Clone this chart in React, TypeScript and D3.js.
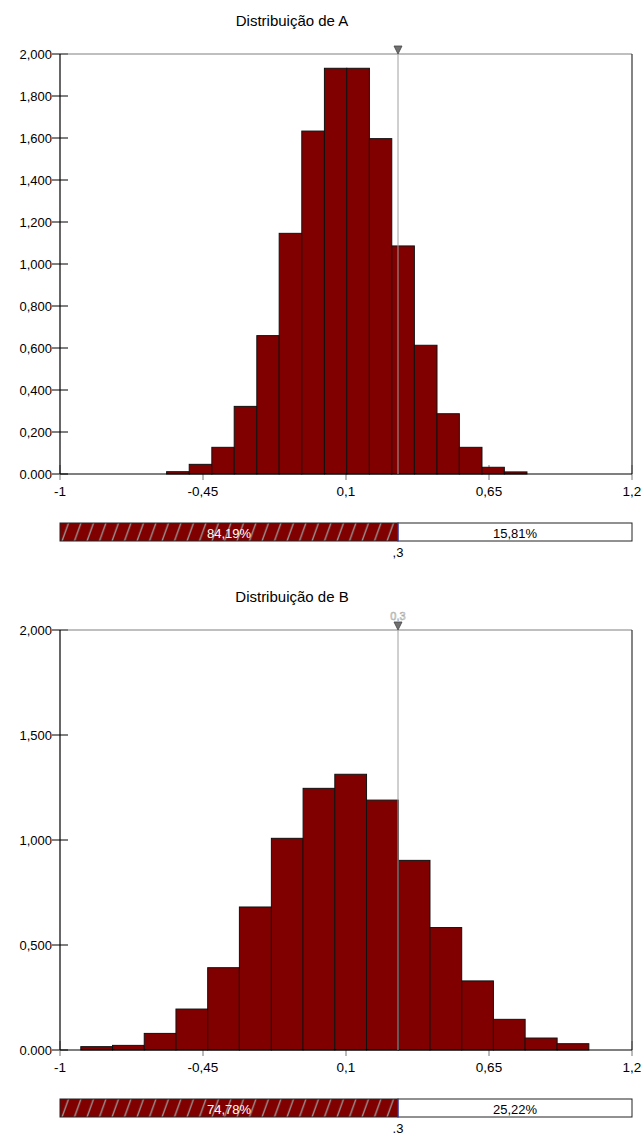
import React from "react";
import * as d3 from "d3";

// ---------- data ----------
const xTickValues = [-1, -0.45, 0.1, 0.65, 1.2];
const xTickLabels = ["-1", "-0,45", "0,1", "0,65", "1,2"];

const yTicksA = [0, 200, 400, 600, 800, 1000, 1200, 1400, 1600, 1800, 2000];
const yTickLabelsA = ["0.000", "0,200", "0,400", "0,600", "0,800", "1,000", "1,200", "1,400", "1,600", "1,800", "2,000"];
const yTicksB = [0, 500, 1000, 1500, 2000];
const yTickLabelsB = ["0.000", "0,500", "1,000", "1,500", "2,000"];

const binEdgesA = [-0.59, -0.503, -0.416, -0.33, -0.243, -0.157, -0.07, 0.017, 0.103, 0.19, 0.276, 0.363, 0.45, 0.536, 0.623, 0.709, 0.796];
const countsA = [11, 46, 127, 322, 659, 1146, 1633, 1932, 1932, 1597, 1086, 613, 287, 127, 32, 10];

const binEdgesB = [-0.92, -0.798, -0.676, -0.554, -0.432, -0.31, -0.187, -0.065, 0.057, 0.179, 0.301, 0.423, 0.545, 0.667, 0.789, 0.912, 1.034];
const countsB = [16, 22, 79, 195, 392, 681, 1008, 1246, 1313, 1190, 903, 583, 329, 146, 57, 30];

const titles = ["Distribuição de  A", "Distribuição de B"];
const markerValue = 0.3;
const markerLabel = ",3";
const markerTopLabel = "0,3";
const leftPercents = ["84,19%", "74,78%"];
const rightPercents = ["15,81%", "25,22%"];

// ---------- layout ----------
const W = 644;
const H = 1133;
const plotLeft = 60;
const plotRight = 632;
const FONT = "'Liberation Sans', Arial, sans-serif";
const BAR_FILL = "#800000";

type PanelProps = {
  top: number;
  title: string;
  edges: number[];
  counts: number[];
  yTicks: number[];
  yLabels: string[];
  leftPct: string;
  rightPct: string;
  showMarkerValue: boolean;
  id: string;
};

function Panel({ top, title, edges, counts, yTicks, yLabels, leftPct, rightPct, showMarkerValue, id }: PanelProps) {
  const plotH = 420;
  const bottom = top + plotH;
  const x = d3.scaleLinear().domain([-1, 1.2]).range([plotLeft, plotRight]);
  const y = d3.scaleLinear().domain([0, 2000]).range([bottom, top]);
  const mx = x(markerValue);
  const barTop = bottom + 49;
  const barH = 18;
  const bins = counts.map((c, i) => ({ x0: edges[i], x1: edges[i + 1], c }));

  return (
    <g>
      <defs>
        <pattern id={"hatch" + id} patternUnits="userSpaceOnUse" x={plotLeft} y={barTop} width={12.5} height={barH}>
          <rect x={0} y={0} width={12.5} height={barH} fill={BAR_FILL} />
          <line x1={2} y1={barH} x2={8.5} y2={0} stroke="#9a9a9a" strokeWidth={1.3} />
          <line x1={-10.5} y1={barH} x2={-4} y2={0} stroke="#9a9a9a" strokeWidth={1.3} />
          <line x1={14.5} y1={barH} x2={21} y2={0} stroke="#9a9a9a" strokeWidth={1.3} />
        </pattern>
      </defs>
      {/* title */}
      <text x={(plotLeft + plotRight) / 2 - 54} y={top - 34} textAnchor="middle" dominantBaseline="central"
        fontFamily={FONT} fontSize={15} fill="#000">{title}</text>

      {/* y ticks */}
      {yTicks.map((t, i) => (
        <g key={"yt" + i}>
          <line x1={plotLeft - 8} x2={plotLeft + 8} y1={y(t)} y2={y(t)} stroke="#000" strokeWidth={1} />
          <text x={plotLeft - 8} y={y(t)} textAnchor="end" dominantBaseline="central"
            fontFamily={FONT} fontSize={13} fill="#000">{yLabels[i]}</text>
        </g>
      ))}
      {/* x ticks */}
      {xTickValues.map((t, i) => (
        <g key={"xt" + i}>
          <line x1={x(t)} x2={x(t)} y1={bottom - 9} y2={bottom + 6} stroke="#777" strokeWidth={1} />
          <text x={x(t)} y={bottom + 17} textAnchor="middle" dominantBaseline="central"
            fontFamily={FONT} fontSize={13.5} fill="#000">{xTickLabels[i]}</text>
        </g>
      ))}

      {/* bars */}
      {bins.map((b, i) => (
        <rect key={"b" + i} x={x(b.x0)} y={y(b.c)} width={x(b.x1) - x(b.x0)} height={bottom - y(b.c)}
          fill={BAR_FILL} stroke="#111" strokeWidth={1} />
      ))}

      {/* frame */}
      <line x1={plotLeft} x2={plotRight} y1={top} y2={top} stroke="#808080" strokeWidth={1.2} />
      <line x1={plotRight} x2={plotRight} y1={top} y2={bottom} stroke="#333" strokeWidth={1.2} />
      <line x1={plotLeft} x2={plotLeft} y1={top} y2={bottom} stroke="#000" strokeWidth={1.2} />
      <line x1={plotLeft} x2={plotRight} y1={bottom} y2={bottom} stroke="#000" strokeWidth={1.2} />

      {/* marker */}
      <line x1={mx} x2={mx} y1={top} y2={bottom} stroke="#a0a0a0" strokeWidth={1} />
      <path d={`M${mx - 4},${top - 8} L${mx + 4},${top - 8} L${mx},${top} Z`} fill="#707070" stroke="#444" strokeWidth={0.8} />
      {showMarkerValue && (
        <text x={mx} y={top - 14} textAnchor="middle" dominantBaseline="central" fontFamily={FONT}
          fontSize={11} fill="#fff" stroke="#aaa" strokeWidth={0.6}>{markerTopLabel}</text>
      )}

      {/* percentage bar */}
      <rect x={plotLeft} y={barTop} width={mx - plotLeft} height={barH} fill={`url(#hatch${id})`} stroke="#222" strokeWidth={1} />
      <rect x={mx} y={barTop} width={plotRight - mx} height={barH} fill="#fff" stroke="#222" strokeWidth={1} />
      <line x1={mx} x2={mx} y1={barTop} y2={barTop + barH} stroke="#3a3ad0" strokeWidth={1} />
      <text x={(plotLeft + mx) / 2} y={barTop + barH / 2 + 1} textAnchor="middle" dominantBaseline="central"
        fontFamily={FONT} fontSize={13} fill="#fff">{leftPct}</text>
      <text x={(mx + plotRight) / 2} y={barTop + barH / 2 + 1} textAnchor="middle" dominantBaseline="central"
        fontFamily={FONT} fontSize={13} fill="#000">{rightPct}</text>
      <text x={mx} y={barTop + barH + 11} textAnchor="middle" dominantBaseline="central"
        fontFamily={FONT} fontSize={13} fill="#000">{markerLabel}</text>
    </g>
  );
}

export default function App() {
  return (
    <svg width={W} height={H} style={{ position: "absolute", left: 0, top: 0, background: "#fff", display: "block" }}>
      <rect x={0} y={0} width={W} height={H} fill="#fff" />
      <Panel top={54} title={titles[0]} edges={binEdgesA} counts={countsA} yTicks={yTicksA} yLabels={yTickLabelsA}
        leftPct={leftPercents[0]} rightPct={rightPercents[0]} showMarkerValue={false} id="A" />
      <Panel top={630} title={titles[1]} edges={binEdgesB} counts={countsB} yTicks={yTicksB} yLabels={yTickLabelsB}
        leftPct={leftPercents[1]} rightPct={rightPercents[1]} showMarkerValue={true} id="B" />
    </svg>
  );
}
